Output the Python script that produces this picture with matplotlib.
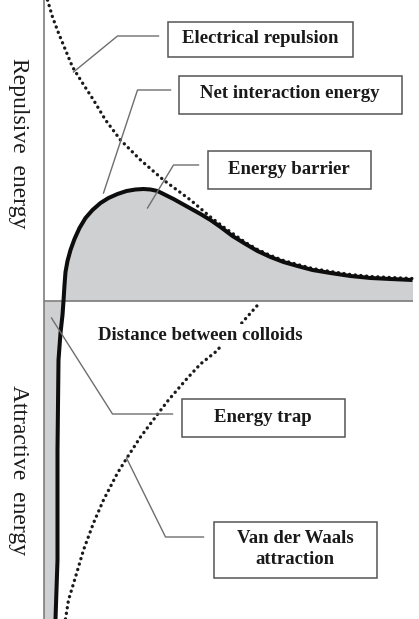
import matplotlib
matplotlib.use("Agg")
import matplotlib.pyplot as plt
from matplotlib.patches import Rectangle

# ---- data (distance from origin, energy) ----
net_d = [12, 14, 14, 15, 17, 19, 20, 21, 22, 24, 27, 31, 36, 42, 49, 57, 65,
         74, 83, 92, 100, 107, 114, 122, 130, 139, 148, 157, 167, 177, 189,
         202, 214, 227, 240, 254, 269, 287, 307, 327, 347, 369]
net_e = [-318, -259, -149, -59, -32, -14, 0, 16, 29, 40, 51, 62, 73, 83, 91,
         98, 103, 107, 110, 111.5, 112, 111.5, 110, 106, 102, 97, 92, 87, 81,
         74, 65, 57, 50, 44, 39, 35, 31, 28, 25, 23, 22, 21]

rep_d = [4, 9, 15, 22, 29, 39, 50, 62, 77, 97, 120, 147, 167, 180, 202, 214,
         227, 240, 254, 269, 287, 307, 327, 347, 369]
rep_e = [301, 284, 268, 251, 234, 218, 201, 181, 161, 141, 121, 101, 84, 74,
         58.5, 51.5, 45.5, 40.5, 36.5, 32.5, 29.5, 26.5, 24.5, 23.5, 22.5]

vdw_d = [22, 25, 32, 40, 50, 60, 74, 84, 97, 115, 125, 144, 157, 172, 187,
         200, 216]
vdw_e = [-318, -299, -276, -249, -222, -199, -172, -156, -136, -112, -99, -77,
         -63, -51, -35, -20, -2]

labels = ["Electrical repulsion", "Net interaction energy", "Energy barrier",
          "Energy trap", "Van der Waals\nattraction"]
axis_x_label = "Distance between colloids"
y_pos_label = "Repulsive  energy"
y_neg_label = "Attractive  energy"

# ---- layout ----
fig = plt.figure(figsize=(4.19, 6.19), dpi=100)
ax = fig.add_axes([0, 0, 1, 1])
ax.set_xlim(-43.5, 375.5)
ax.set_ylim(-318, 301)
ax.axis("off")

serif = ["Liberation Serif", "DejaVu Serif"]
fill_c = "#cfd0d1"

# gray fills
pos = [(d, e) for d, e in zip(net_d, net_e) if e >= 0]
neg = [(d, e) for d, e in zip(net_d, net_e) if e <= 0]
ax.fill_between([p[0] for p in pos], 0, [p[1] for p in pos], color=fill_c,
                lw=0, zorder=1)
ax.fill_betweenx([p[1] for p in neg], 0, [p[0] for p in neg], color=fill_c,
                 lw=0, zorder=1)

# axes lines
ax.plot([0, 0], [-318, 301], color="#7d7d7d", lw=1.2, zorder=2,
        solid_capstyle="butt")
ax.plot([0, net_d[-1]], [0, 0], color="#7d7d7d", lw=1.2, zorder=2,
        solid_capstyle="butt")

# dotted curves
dot_style = dict(color="#1a1a1a", lw=2.4, linestyle=(0, (0.05, 1.65)),
                 dash_capstyle="round", solid_joinstyle="round", zorder=3)
ax.plot(rep_d, rep_e, **dot_style)
ax.plot(vdw_d, vdw_e, **dot_style)

# net curve
ax.plot(net_d, net_e, color="#0d0d0d", lw=2.9, zorder=4,
        solid_joinstyle="round", solid_capstyle="butt")

# leaders
leaders = [
    ([115, 74, 30], [265, 265, 229]),
    ([127, 94, 60], [211, 211, 108]),
    ([155, 130, 104], [136, 136, 93]),
    ([129, 69, 8], [-113, -113, -17]),
    ([160, 122, 83], [-236, -236, -157]),
]
for lx, ly in leaders:
    ax.plot(lx, ly, color="#6e6e6e", lw=1.0, zorder=5)

# boxes
boxes = [
    (124, 244, 185, 35),
    (135, 187, 223, 38),
    (164, 112, 163, 38),
    (138, -136, 163, 38),
    (170, -277, 163, 56),
]
for (bx, by, bw, bh), txt in zip(boxes, labels):
    ax.add_patch(Rectangle((bx, by), bw, bh, facecolor="white",
                           edgecolor="#555555", lw=1.1, zorder=6))
    ax.text(bx + bw / 2, by + bh / 2 + 1, txt, ha="center", va="center",
            family=serif, fontweight="bold", fontsize=13.5, color="#1a1a1a",
            zorder=7, linespacing=1.3)

ax.text(157, -34, axis_x_label, ha="center", va="center", family=serif,
        fontweight="bold", fontsize=13.5, color="#1a1a1a", zorder=7,
        bbox=dict(facecolor="white", edgecolor="none", pad=2))

ax.text(-25.5, 158, y_pos_label, ha="center", va="center", rotation=-90,
        family=serif, fontsize=17, color="#1a1a1a")
ax.text(-25.5, -169, y_neg_label, ha="center", va="center", rotation=-90,
        family=serif, fontsize=17, color="#1a1a1a")

fig.savefig("out.png", dpi=100)
